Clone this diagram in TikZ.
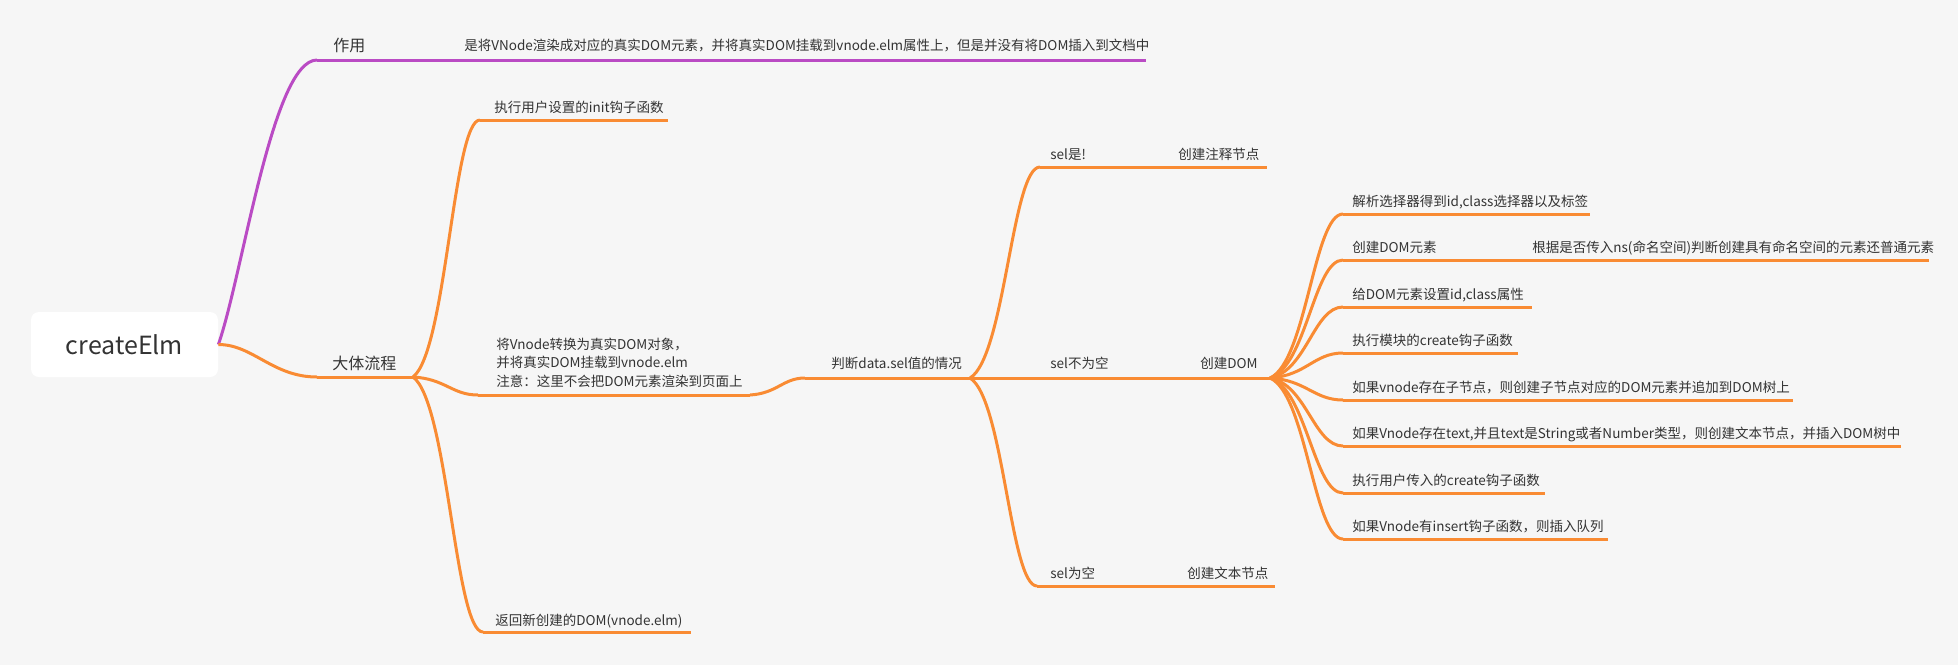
\documentclass[tikz,border=0pt]{standalone}
\usepackage{fontspec}
\setmainfont{Noto Sans CJK SC}
\usetikzlibrary{calc}
\definecolor{bgc}{HTML}{F6F6F6}
\definecolor{purc}{HTML}{BA4BC4}
\definecolor{orgc}{HTML}{F98B33}
\definecolor{txtc}{HTML}{333333}
% curve from #2 to #3, options #1, shape parameters p=#4, b=#5, q=#6
\newcommand\mmcurve[6]{%
  \draw[#1] let \p1=(#2), \p2=(#3) in (\p1) .. controls ({\x1+#4*(\x2-\x1)},{\y1+#5*(\y2-\y1)}) and ({\x1+#6*(\x2-\x1)},\y2) .. (\p2);}
\newcommand\mmlink[3]{\mmcurve{#1}{#2}{#3}{0.5}{0.1}{0.6}}
\begin{document}
\begin{tikzpicture}[x=0.5pt,y=-0.5pt,
  pl/.style={line width=1.5pt, draw=purc},
  ol/.style={line width=1.5pt, draw=orgc},
  lab/.style={anchor=base west, inner sep=0, text=txtc, font=\fontsize{6.75}{9.25}\selectfont},
  big/.style={lab, font=\fontsize{8}{10}\selectfont},
  rootbox/.style={fill=white, rounded corners=4pt, minimum width=93.5pt, minimum height=32.5pt, inner sep=0, text=txtc, font=\fontsize{12.5}{14}\selectfont}]
\fill[bgc] (0,0) rectangle (1958,665);
\useasboundingbox (0,0) rectangle (1958,665);

% root
\node[rootbox] (root) at (124.5,344.5) {createElm};

% ---- level 1: 作用
\node[big] (zy) at (333,51) {作用};
\coordinate (zy-l) at (317,60); \coordinate (zy-r) at (379,60);
\node[lab] (zyc) at (464,50) {是将VNode渲染成对应的真实DOM元素，并将真实DOM挂载到vnode.elm属性上，但是并没有将DOM插入到文档中};
\coordinate (zyc-l) at (448,60); \coordinate (zyc-r) at (1146,60);
\mmcurve{pl}{root.east}{zy-l}{0.25}{0.25}{0.55}
\draw[pl] (zy-l) -- (zy-r) -- (zyc-l) -- (zyc-r);

% ---- level 1: 大体流程
\node[big] (dt) at (332,369) {大体流程};
\coordinate (dt-l) at (317,377); \coordinate (dt-r) at (413,377);
\mmcurve{ol}{root.east}{dt-l}{0.35}{0}{0.55}
\draw[ol] (dt-l) -- (dt-r);

% level 2
\node[lab] (init) at (494,112) {执行用户设置的init钩子函数};
\coordinate (init-l) at (480,120); \coordinate (init-r) at (668,120);
\node[lab, anchor=west, align=left] (conv) at (496,362.5) {将Vnode转换为真实DOM对象，\\并将真实DOM挂载到vnode.elm\\注意：这里不会把DOM元素渲染到页面上};
\coordinate (conv-l) at (478,395); \coordinate (conv-r) at (750,395);
\node[lab] (ret) at (495,625) {返回新创建的DOM(vnode.elm)};
\coordinate (ret-l) at (483,632); \coordinate (ret-r) at (691,632);
\mmlink{ol}{dt-r}{init-l}
\mmlink{ol}{dt-r}{conv-l}
\mmlink{ol}{dt-r}{ret-l}
\draw[ol] (init-l) -- (init-r);
\draw[ol] (conv-l) -- (conv-r);
\draw[ol] (ret-l) -- (ret-r);

% level 3
\node[lab] (pd) at (831,368) {判断data.sel值的情况};
\coordinate (pd-l) at (805,378); \coordinate (pd-r) at (970,378);
\mmlink{ol}{conv-r}{pd-l}
\draw[ol] (pd-l) -- (pd-r);

% level 4
\node[lab] (s1) at (1050,159) {sel是!};
\node[lab] (c1) at (1178,159) {创建注释节点};
\coordinate (s1-l) at (1040,167); \coordinate (s1-r) at (1160,167);
\coordinate (c1-l) at (1165,167); \coordinate (c1-r) at (1267,167);
\node[lab] (s2) at (1050,368) {sel不为空};
\node[lab] (c2) at (1200,368) {创建DOM};
\coordinate (s2-l) at (1040,378); \coordinate (s2-r) at (1160,378);
\coordinate (c2-l) at (1180,378); \coordinate (c2-r) at (1270,378);
\node[lab] (s3) at (1050,578) {sel为空};
\node[lab] (c3) at (1187,578) {创建文本节点};
\coordinate (s3-l) at (1037,586); \coordinate (s3-r) at (1160,586);
\coordinate (c3-l) at (1170,586); \coordinate (c3-r) at (1275,586);
\mmlink{ol}{pd-r}{s1-l}
\mmlink{ol}{pd-r}{s3-l}
\draw[ol] (pd-r) -- (s2-l);
\draw[ol] (s1-l) -- (s1-r) -- (c1-l) -- (c1-r);
\draw[ol] (s2-l) -- (s2-r) -- (c2-l) -- (c2-r);
\draw[ol] (s3-l) -- (s3-r) -- (c3-l) -- (c3-r);

% level 5
\node[lab] (f1) at (1352,206) {解析选择器得到id,class选择器以及标签};
\coordinate (f1-l) at (1343,214); \coordinate (f1-r) at (1590,214);
\node[lab] (f2) at (1352,252) {创建DOM元素};
\coordinate (f2-l) at (1343,260); \coordinate (f2-r) at (1500,260);
\node[lab] (g2) at (1532,252) {根据是否传入ns(命名空间)判断创建具有命名空间的元素还普通元素};
\coordinate (g2-l) at (1515,260); \coordinate (g2-r) at (1929,260);
\node[lab] (f3) at (1352,299) {给DOM元素设置id,class属性};
\coordinate (f3-l) at (1343,307); \coordinate (f3-r) at (1532,307);
\node[lab] (f4) at (1352,345) {执行模块的create钩子函数};
\coordinate (f4-l) at (1343,353); \coordinate (f4-r) at (1518,353);
\node[lab] (f5) at (1352,392) {如果vnode存在子节点，则创建子节点对应的DOM元素并追加到DOM树上};
\coordinate (f5-l) at (1343,400); \coordinate (f5-r) at (1793,400);
\node[lab] (f6) at (1352,438) {如果Vnode存在text,并且text是String或者Number类型，则创建文本节点，并插入DOM树中};
\coordinate (f6-l) at (1343,446); \coordinate (f6-r) at (1901,446);
\node[lab] (f7) at (1352,485) {执行用户传入的create钩子函数};
\coordinate (f7-l) at (1343,493); \coordinate (f7-r) at (1545,493);
\node[lab] (f8) at (1352,531) {如果Vnode有insert钩子函数，则插入队列};
\coordinate (f8-l) at (1343,539); \coordinate (f8-r) at (1608,539);
\foreach \k in {1,...,8} {
  \mmlink{ol}{c2-r}{f\k-l}
  \draw[ol] (f\k-l) -- (f\k-r);
}
\draw[ol] (f2-r) -- (g2-l) -- (g2-r);
\end{tikzpicture}
\end{document}
